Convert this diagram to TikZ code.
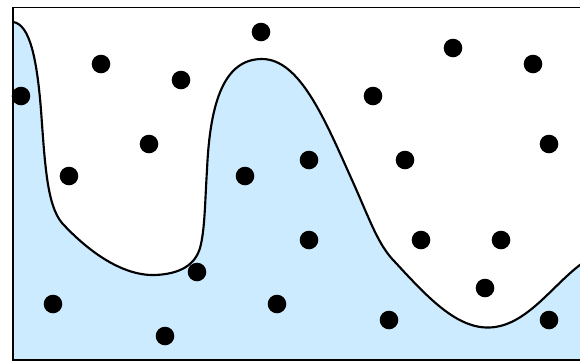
\documentclass[tikz,border=0pt]{standalone}
\definecolor{regionblue}{RGB}{204,235,255}
\begin{document}
\begin{tikzpicture}[x=0.75pt,y=-0.75pt,
  dot/.style={fill=black,draw=none},
  curveline/.style={draw=black,line width=1.6pt},
  frame/.style={draw=black,line width=1.4pt}]
\useasboundingbox (0,0) rectangle (580,362);
% filled region below the curve
\fill[regionblue] (13,22) .. controls (30,24) and (37,60) .. (41,110)
  .. controls (45,165) and (47,205) .. (62,223)
  .. controls (85,248) and (120,276) .. (155,275)
  .. controls (180,274) and (195,265) .. (200,248)
  .. controls (205,230) and (205,200) .. (207,170)
  .. controls (210,100) and (225,59) .. (262,59)
  .. controls (300,59) and (325,120) .. (352,180)
  .. controls (370,220) and (378,245) .. (395,262)
  .. controls (430,300) and (460,332) .. (495,327)
  .. controls (530,322) and (555,282) .. (584,262)
  -- (584,360) -- (13,360) -- cycle;
\draw[curveline] (13,22) .. controls (30,24) and (37,60) .. (41,110)
  .. controls (45,165) and (47,205) .. (62,223)
  .. controls (85,248) and (120,276) .. (155,275)
  .. controls (180,274) and (195,265) .. (200,248)
  .. controls (205,230) and (205,200) .. (207,170)
  .. controls (210,100) and (225,59) .. (262,59)
  .. controls (300,59) and (325,120) .. (352,180)
  .. controls (370,220) and (378,245) .. (395,262)
  .. controls (430,300) and (460,332) .. (495,327)
  .. controls (530,322) and (555,282) .. (584,262);
% frame (right side beyond the picture)
\draw[frame] (584,7.5) -- (13,7.5) -- (13,360) -- (584,360);
% dots
\foreach \x/\y in {261/32,101/64,181/80,21/96,453/48,533/64,373/96,149/144,549/144,
  309/160,405/160,69/176,245/176,309/240,421/240,501/240,197/272,485/288,
  53/304,277/304,389/320,549/320,165/336}
  \fill[dot] (\x,\y) circle[radius=9.3];
\end{tikzpicture}
\end{document}
